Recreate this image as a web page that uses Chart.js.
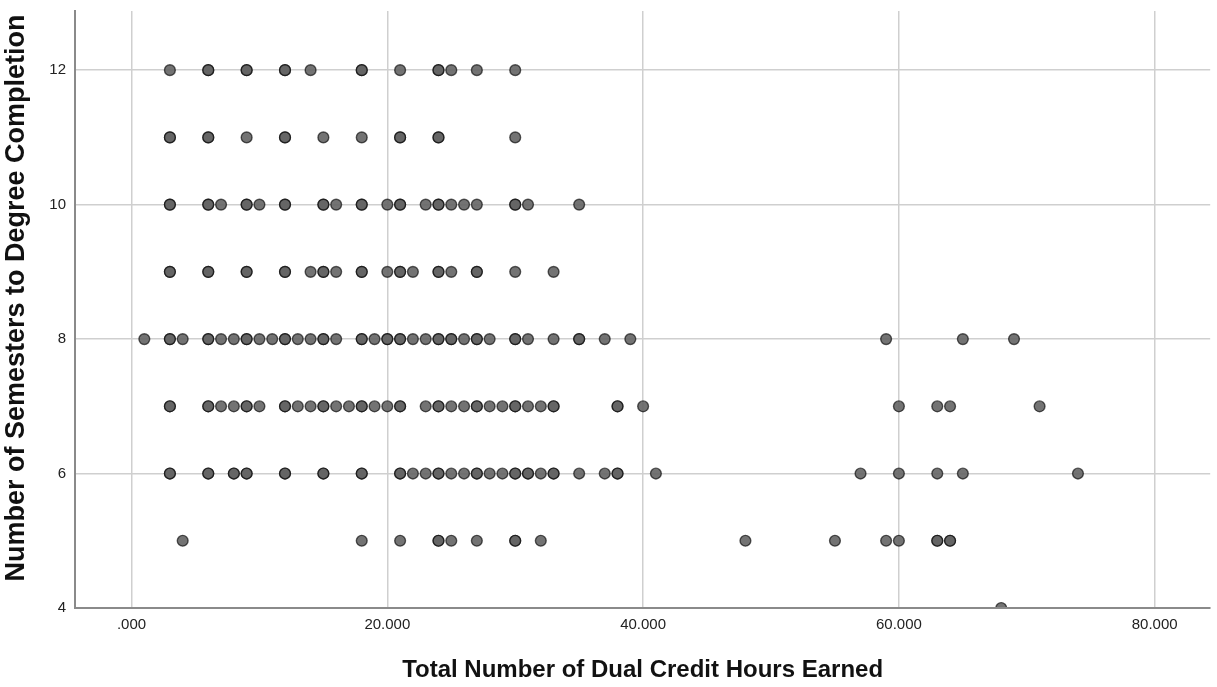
<!DOCTYPE html>
<html>
<head>
<meta charset="utf-8">
<script src="https://cdn.jsdelivr.net/npm/chart.js@4/dist/chart.umd.min.js"></script>
<style>
  html, body { margin: 0; padding: 0; background: #ffffff; }
  #wrap { width: 1217px; height: 687px; }
</style>
</head>
<body>
<div id="wrap"><canvas id="c" width="1217" height="687"></canvas></div>
<script>
// Dual credit hours earned by students, grouped by semesters to degree completion.
// Repeated values are separate students with the same hours.
const hours12 = [3, 6, 6, 9, 9, 12, 12, 14, 18, 18, 21, 24, 24, 25, 27, 30];
const hours11 = [3, 3, 6, 6, 9, 12, 12, 15, 18, 21, 21, 24, 24, 30];
const hours10 = [3, 3, 6, 6, 7, 9, 9, 10, 12, 12, 15, 15, 16, 18, 18, 20, 21, 21, 23, 24, 24, 25, 26, 27, 30, 30, 31, 35];
const hours9  = [3, 3, 6, 6, 9, 9, 12, 12, 14, 15, 15, 16, 18, 18, 20, 21, 21, 22, 24, 24, 25, 27, 27, 30, 33];
const hours8  = [1, 3, 3, 4, 6, 6, 7, 8, 9, 9, 10, 11, 12, 12, 13, 14, 15, 15, 16, 18, 18, 19, 20, 20, 21, 21, 22, 23, 24, 24, 25, 25, 26, 27, 27, 28, 30, 30, 31, 33, 35, 35, 37, 39, 59, 65, 69];
const hours7  = [3, 3, 6, 6, 7, 8, 9, 9, 10, 12, 12, 13, 14, 15, 15, 16, 17, 18, 18, 19, 20, 21, 21, 23, 24, 24, 25, 26, 27, 27, 28, 29, 30, 30, 31, 32, 33, 33, 38, 38, 40, 60, 63, 64, 71];
const hours6  = [3, 3, 6, 6, 8, 8, 9, 9, 12, 12, 15, 15, 18, 18, 21, 21, 22, 23, 24, 24, 25, 26, 27, 27, 28, 29, 30, 30, 31, 31, 32, 33, 33, 35, 37, 38, 38, 41, 57, 60, 63, 65, 74];
const hours5  = [4, 18, 21, 24, 24, 25, 27, 30, 30, 32, 48, 55, 59, 60, 63, 63, 64, 64];
const hours4  = [68];

const semesterGroups = [
  [12, hours12], [11, hours11], [10, hours10], [9, hours9], [8, hours8],
  [7, hours7], [6, hours6], [5, hours5], [4, hours4]
];

const xTicks = [0, 20, 40, 60, 80];
const yTicks = [4, 6, 8, 10, 12];

const xTitle = 'Total Number of Dual Credit Hours Earned';
const yTitle = 'Number of Semesters to Degree Completion';

const points = [];
semesterGroups.forEach(([sem, list]) => {
  list.forEach(h => points.push({ x: h, y: sem }));
});

const family = '"Liberation Sans", Arial, sans-serif';
const labelFont = { family, size: 15 };

// Fixed axis band sizes; label overhang padding is dropped so the plot
// area is set only by the layout padding below.
function fixX(s) { s.height = 79; s.paddingLeft = 0; s.paddingRight = 0; }
function fixY(s) { s.width = 75; s.paddingTop = 0; s.paddingBottom = 0; }

// Vertical axis title, drawn rotated in the left margin.
const yTitlePlugin = {
  id: 'yTitle',
  afterDraw(chart) {
    const ctx = chart.ctx;
    ctx.save();
    ctx.translate(17, 298);
    ctx.rotate(-Math.PI / 2);
    ctx.font = 'bold 27px ' + family;
    ctx.fillStyle = '#111';
    ctx.textAlign = 'center';
    ctx.textBaseline = 'middle';
    ctx.fillText(yTitle, 0, 0);
    ctx.restore();
  }
};

new Chart(document.getElementById('c'), {
  type: 'scatter',
  data: {
    datasets: [{
      data: points,
      backgroundColor: 'rgba(100,100,100,0.9)',
      borderColor: 'rgba(0,0,0,0.62)',
      borderWidth: 1.4,
      pointRadius: 5.4,
      pointHoverRadius: 5.4,
      clip: 0
    }]
  },
  plugins: [yTitlePlugin],
  options: {
    responsive: false,
    animation: false,
    events: [],
    layout: { padding: { top: 11, right: 4, left: 0, bottom: 0 } },
    plugins: { legend: { display: false }, tooltip: { enabled: false } },
    scales: {
      x: {
        type: 'linear',
        min: -4.42,
        max: 84.34,
        afterBuildTicks: s => { s.ticks = xTicks.map(v => ({ value: v })); },
        afterFit: fixX,
        grid: { color: '#cfcfcf', lineWidth: 1.5, drawTicks: false },
        border: { color: '#8a8a8a', width: 2, z: 1 },
        ticks: {
          padding: 8,
          color: '#222',
          font: labelFont,
          callback: v => (v === 0 ? '.000' : v.toFixed(3))
        },
        title: {
          display: true,
          text: xTitle,
          color: '#111',
          font: { family, size: 24, weight: 'bold' },
          padding: { top: 0, bottom: 2 }
        }
      },
      y: {
        type: 'linear',
        min: 4,
        max: 12.88,
        afterBuildTicks: s => { s.ticks = yTicks.map(v => ({ value: v })); },
        afterFit: fixY,
        grid: { color: '#cfcfcf', lineWidth: 1.5, drawTicks: false },
        border: { color: '#8a8a8a', width: 2, z: 1 },
        ticks: {
          padding: 9,
          color: '#222',
          font: labelFont
        },
        title: { display: false }
      }
    }
  }
});
</script>
</body>
</html>
